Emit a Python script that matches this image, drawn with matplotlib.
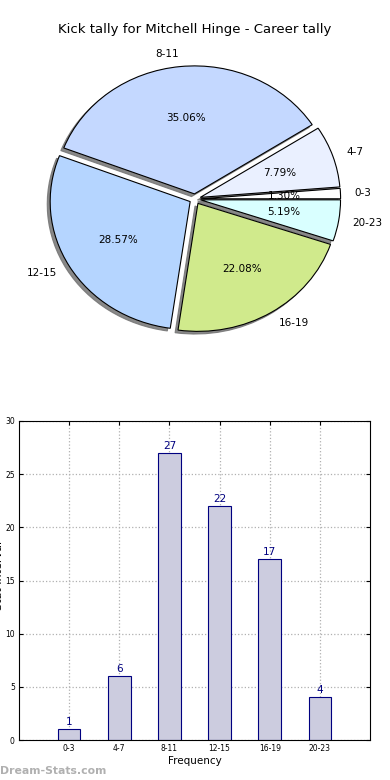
import matplotlib
matplotlib.use("Agg")
import matplotlib.pyplot as plt

categories = ["0-3", "4-7", "8-11", "12-15", "16-19", "20-23"]
counts = [1, 6, 27, 22, 17, 4]
pie_colors = ["#ffffff", "#eaf0ff", "#c4d8ff", "#b5d5ff", "#d0ea8c", "#d9ffff"]
title = "Kick tally for Mitchell Hinge - Career tally"

fig = plt.figure(figsize=(3.9, 7.8), dpi=100)

# Pie chart (slightly elliptical like the reference)
axp = fig.add_axes([20/390, (780-359)/780, 350/390, 320/780])
wedges, texts, autotexts = axp.pie(
    counts, labels=categories, colors=pie_colors, autopct="%1.2f%%",
    startangle=0, explode=[0.04]*len(counts),
    shadow={'ox': -0.015, 'oy': -0.015, 'facecolor': '0.45', 'edgecolor': '0.45', 'alpha': 0.85},
    wedgeprops={'edgecolor': 'black', 'linewidth': 0.8},
    textprops={'fontsize': 7.5},
)
axp.set_aspect('auto')
axp.set_xlim(-1.25, 1.25)
axp.set_ylim(-1.25, 1.25)
fig.text(0.5, 1 - 30/780, title, ha='center', va='center', fontsize=9.5)

# Bar chart
axb = fig.add_axes([19/390, 40/780, 351/390, 319/780])
x = list(range(len(categories)))
bars = axb.bar(x, counts, width=0.45, color="#ccccdf", edgecolor="#000080", linewidth=0.8, zorder=2)
for xi, c in zip(x, counts):
    axb.text(xi, c + 0.2, str(c), ha='center', va='bottom', color='#000080', fontsize=7.5)
axb.set_xlim(-1, 6)
axb.set_ylim(0, 30)
axb.set_xticks(x)
axb.set_xticklabels(categories)
axb.set_yticks(range(0, 31, 5))
axb.tick_params(axis='both', labelsize=5.5, direction='in', top=True, right=True, length=3, pad=3)
axb.grid(True, linestyle=':', color='#b0b0b0', linewidth=0.9, zorder=0)
axb.set_axisbelow(True)
axb.set_xlabel("Frequency", fontsize=7.5, labelpad=2)
fig.text(-0.003, 1 - 575/780, "Stat Interval", rotation=90, ha='center', va='center', fontsize=8)

fig.text(0.0, 1 - 771/780, "Dream-Stats.com", ha='left', va='center', fontsize=7.8,
         color='#b0b0b0', fontweight='bold')

fig.savefig("out.png", dpi=100)
